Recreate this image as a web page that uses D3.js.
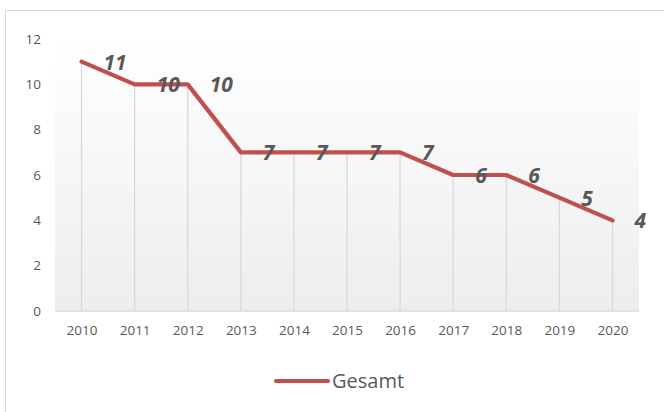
<!DOCTYPE html>
<html><head><meta charset="utf-8">
<script src="https://cdn.jsdelivr.net/npm/d3@7"></script>
<style>body{margin:0;background:#fff}svg{display:block}text{font-family:"Open Sans","Noto Sans",sans-serif}</style>
</head><body>
<svg id="c" width="664" height="412"></svg>
<script>
const years = ["2010","2011","2012","2013","2014","2015","2016","2017","2018","2019","2020"];
const gesamt = [11,10,10,7,7,7,7,6,6,5,4];
const yTicks = [0,2,4,6,8,10,12];
const seriesName = "Gesamt";

const svg = d3.select("#c");
const W = 664, H = 412;
const m = {left:55, right:25, top:39, bottom:101};
const x = d3.scalePoint().domain(years).range([m.left, W - m.right]).padding(0.5);
const y = d3.scaleLinear().domain([0,12]).range([H - m.bottom, m.top]);

// outer border
svg.append("path").attr("d", `M5.5,${H} V10.5 H${W}`).attr("fill","none").attr("stroke","#d9d9d9");

const defs = svg.append("defs");
const g = defs.append("linearGradient").attr("id","bg").attr("x1",0).attr("y1",0).attr("x2",0).attr("y2",1);
g.append("stop").attr("offset","0%").attr("stop-color","#ffffff");
g.append("stop").attr("offset","100%").attr("stop-color","#ededed");
svg.append("rect").attr("x",m.left).attr("y",y(12)).attr("width",W-m.right-m.left).attr("height",y(0)-y(12)).attr("fill","url(#bg)");

// drop lines
svg.append("g").selectAll("line").data(years).join("line")
  .attr("x1",d=>x(d)).attr("x2",d=>x(d))
  .attr("y1",(d,i)=>y(gesamt[i])).attr("y2",y(0))
  .attr("stroke","#d9d9d9").attr("stroke-width",1.3);

// baseline
svg.append("line").attr("x1",m.left).attr("x2",W-m.right).attr("y1",y(0)).attr("y2",y(0)).attr("stroke","#d9d9d9").attr("stroke-width",1.5);

// axes
const xa = svg.append("g").attr("transform",`translate(0,${y(0)})`).call(d3.axisBottom(x).tickSize(0).tickPadding(14));
xa.select(".domain").remove();
xa.selectAll("text").attr("fill","#595959").style("font-size","13.5px");
const ya = svg.append("g").attr("transform",`translate(${m.left},0)`).call(d3.axisLeft(y).tickValues(yTicks).tickSize(0).tickPadding(14));
ya.select(".domain").remove();
ya.selectAll("text").attr("fill","#595959").style("font-size","13.5px");

// line
const line = d3.line().x((d,i)=>x(years[i])).y(d=>y(d));
svg.append("path").datum(gesamt).attr("d",line).attr("fill","none").attr("stroke","#c0504d").attr("stroke-width",4.2).attr("stroke-linecap","round").attr("stroke-linejoin","round");

// labels
svg.append("g").selectAll("text").data(gesamt).join("text")
  .attr("x",(d,i)=>x(years[i])+22).attr("y",d=>y(d)+8)
  .attr("fill","#595959").style("font-size","21px").style("font-style","italic").style("font-weight","bold")
  .text(d=>d);

// legend
const lg = svg.append("g");
lg.append("line").attr("x1",276).attr("x2",328).attr("y1",381).attr("y2",381).attr("stroke","#c0504d").attr("stroke-width",4.2).attr("stroke-linecap","round");
lg.append("text").attr("x",332).attr("y",388).attr("fill","#595959").style("font-size","20px").text(seriesName);
</script>
</body></html>
